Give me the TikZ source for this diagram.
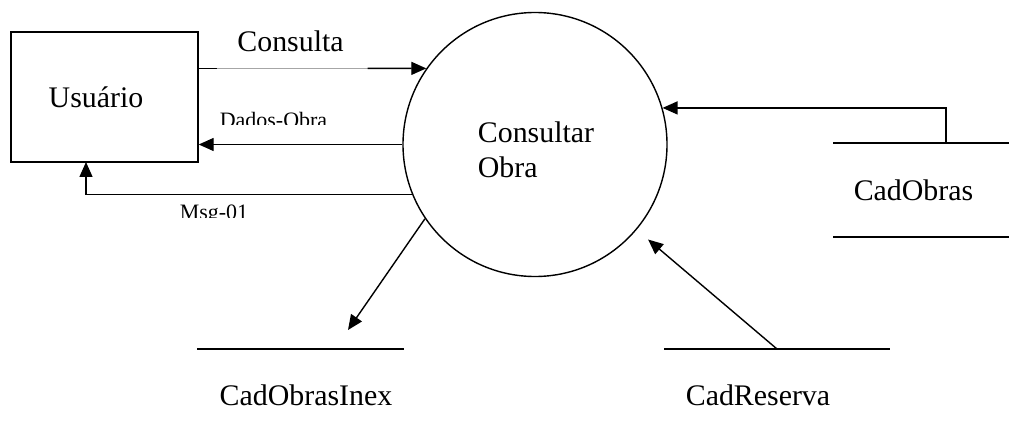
\documentclass[tikz,border=0pt]{standalone}
\usepackage{fontspec}
\setmainfont{Liberation Serif}
\usetikzlibrary{arrows.meta}

\begin{document}
\begin{tikzpicture}[scale=0.2, line width=0.8pt,
  flow/.style={-{Triangle[length=0.3cm,width=0.26cm]}},
  big/.style={font=\fontsize{17}{20}\selectfont},
  small/.style={font=\fontsize{12.5}{14}\selectfont}]
\tikzstyle{every node}+=[inner sep=0pt]
\useasboundingbox (0,0) rectangle (100.9,-43.8);
% entidade e processo
\node [draw, minimum width=3.74cm, minimum height=2.6cm] (user) at (10.45,-9.7) {};
\node [big] (userlbl) at (9.6,-9.7) {Usuário};
\node [draw, circle, minimum size=5.28cm] (proc) at (53.5,-14.45) {};
\node [big, align=left] (proclbl) at (53.6,-15.0) {Consultar\\Obra};
% depositos
\draw (83.3,-14.3) -- (100.9,-14.3);
\draw (83.3,-23.7) -- (100.9,-23.7);
\node [big, anchor=base] (obras) at (91.35,-20.0) {CadObras};
\draw (19.7,-34.9) -- (40.4,-34.9);
\node [big, anchor=base] (inex) at (30.6,-40.5) {CadObrasInex};
\draw (66.4,-34.9) -- (89.0,-34.9);
\node [big, anchor=base] (reserva) at (75.8,-40.5) {CadReserva};
\coordinate (obrasOut) at (94.6,-14.3);
\coordinate (reservaOut) at (77.7,-34.9);
\coordinate (inexIn) at (34.8,-33.0);
\coordinate (msgUp) at (8.6,-16.2);
% fluxos
\node [big, anchor=base] (consulta) at (29.05,-5.15) {Consulta};
\draw (proc.145 -| user.east) -- ++(1.8,0) coordinate (c1);
\draw [gray!70, line width=0.5pt] (c1) -- ++(15.1,0) coordinate (c2);
\draw [flow] (c2) -- (proc.145);
\begin{scope}
\clip (15,-10) rectangle (40,-12.45);
\node [small, anchor=base] (dados) at (27.35,-12.75) {Dados-Obra};
\end{scope}
\draw [flow] (proc.west) -- (proc.west -| user.east);
\begin{scope}
\clip (15,-19.8) rectangle (30,-21.7);
\node [small, anchor=base] (msg) at (21.4,-21.95) {Msg-01};
\end{scope}
\draw [flow] (proc.202) -| (msgUp);
\draw [flow] (obrasOut) |- (proc.16);
\draw [flow, shorten >=0.3cm] (reservaOut) -- (proc.-40);
\draw [flow] (proc.214) -- (inexIn);
\end{tikzpicture}
\end{document}
